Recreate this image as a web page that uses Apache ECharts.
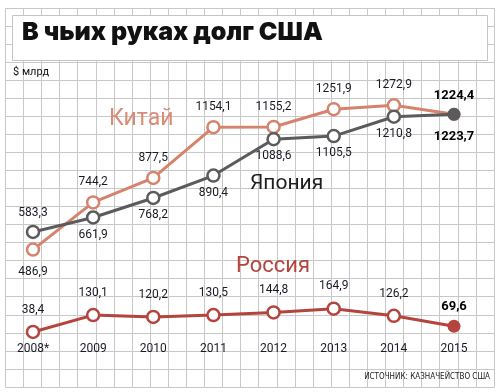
<!DOCTYPE html>
<html>
<head>
<meta charset="utf-8">
<script src="https://cdn.jsdelivr.net/npm/echarts@6/dist/echarts.min.js"></script>
<style>
html,body{margin:0;padding:0;background:#fff;}
#c{width:500px;height:392px;}
</style>
</head>
<body>
<div id="c"></div>
<script>
const years = ['2008*','2009','2010','2011','2012','2013','2014','2015'];
const china = [486.9,744.2,877.5,1154.1,1155.2,1251.9,1272.9,1224.4];
const japan = [583.3,661.9,768.2,890.4,1088.6,1105.5,1210.8,1223.7];
const russia = [38.4,130.1,120.2,130.5,144.8,164.9,126.2,69.6];
const chinaLabelPos = ['bottom','top','top','top','top','top','top','top'];
const japanLabelPos = ['top','bottom','bottom','bottom','bottom','bottom','bottom','bottom'];

const C_CHINA = '#d6836d', C_JAPAN = '#5b5b5b', C_RUSSIA = '#b4443e';
const FONT = 'Roboto';
const fmt = v => v.toFixed(1).replace('.', ',');

function build(vals, color, posArr, distTop, distBottom) {
  return vals.map((v, i) => {
    const last = i === vals.length - 1;
    const pos = posArr[i];
    return {
      value: v,
      symbolSize: last ? 13 : 12,
      itemStyle: last ? { color: color, borderColor: color, borderWidth: 0 } : { color: '#fff', borderColor: color, borderWidth: 2.5 },
      label: {
        show: true,
        position: pos,
        distance: pos === 'top' ? distTop : distBottom,
        formatter: fmt(v),
        fontFamily: FONT,
        fontSize: last ? 13 : 12,
        fontWeight: last ? 'bold' : 'normal',
        color: last ? '#000' : '#1a1a24'
      }
    };
  });
}

const chinaData = build(china, C_CHINA, chinaLabelPos, 7, 9);
chinaData[0].label.distance = 9;
chinaData[7].label.distance = 5;
const japanData = build(japan, C_JAPAN, japanLabelPos, 6, 4);
japanData[7].label.distance = 9;
const russiaData = build(russia, C_RUSSIA, russia.map(() => 'top'), 9, 9);
russiaData[7].label.distance = 6;

// graph paper background
const gfx = [];
const gx0 = 5, gy0 = 8, gdx = 18.1, gdy = 18.03, ncol = 27, nrow = 21;
for (let i = 0; i <= ncol; i++) {
  const x = Math.round(gx0 + i * gdx) + 0.5;
  gfx.push({ type: 'line', z: 0, silent: true, shape: { x1: x, y1: gy0 + 0.5, x2: x, y2: gy0 + nrow * gdy + 0.5 }, style: { stroke: '#c8c8c8', lineWidth: 1 } });
}
for (let j = 0; j <= nrow; j++) {
  const y = Math.round(gy0 + j * gdy) + 0.5;
  gfx.push({ type: 'line', z: 0, silent: true, shape: { x1: gx0 + 0.5, y1: y, x2: Math.round(gx0 + ncol * gdx) + 0.5, y2: y }, style: { stroke: '#c8c8c8', lineWidth: 1 } });
}
gfx.push({ type: 'rect', z: 1, silent: true, shape: { x: 12.5, y: 15.5, width: 475, height: 45 }, style: { fill: '#fff', stroke: '#c4c4c4', lineWidth: 1 } });
gfx.push({ type: 'text', z: 2, left: 22, top: 20, style: { text: 'В чьих руках долг США', font: '900 25px Inter, "DejaVu Sans", sans-serif', fill: '#111' } });
gfx.push({ type: 'text', z: 2, left: 13, top: 67, style: { text: '$ млрд', font: '11px Roboto, sans-serif', fill: '#111' } });
gfx.push({ type: 'text', z: 2, left: 109, top: 108, style: { text: 'Китай', font: '23px Roboto, sans-serif', fill: '#d98b76' } });
gfx.push({ type: 'text', z: 2, left: 250, top: 173, style: { text: 'Япония', font: '21px Roboto, sans-serif', fill: '#1d1d1d' } });
gfx.push({ type: 'text', z: 2, left: 236, top: 255, style: { text: 'Россия', font: '22px Roboto, sans-serif', fill: '#b5443e' } });
gfx.push({ type: 'text', z: 2, right: 10, top: 373, style: { text: 'ИСТОЧНИК: КАЗНАЧЕЙСТВО США', font: '8px "DejaVu Sans Condensed", "DejaVu Sans", sans-serif', fill: '#1a1a1a' } });

const chart = echarts.init(document.getElementById('c'), null, { renderer: 'canvas' });
chart.setOption({
  animation: false,
  backgroundColor: '#fff',
  graphic: gfx,
  grid: { left: 33, right: 46, top: 82, bottom: 53 },
  xAxis: {
    type: 'category', data: years, boundaryGap: false,
    axisLine: { show: false }, axisTick: { show: false }, splitLine: { show: false },
    axisLabel: { margin: 4, fontFamily: FONT, fontSize: 12, color: '#1a1a24' }
  },
  yAxis: { type: 'value', min: 0, max: 1400, show: false, splitLine: { show: false } },
  series: [
    { name: 'Китай', type: 'line', z: 3, data: chinaData, symbol: 'circle', lineStyle: { color: C_CHINA, width: 3 }, itemStyle: { color: C_CHINA } },
    { name: 'Япония', type: 'line', z: 4, data: japanData, symbol: 'circle', lineStyle: { color: C_JAPAN, width: 3 }, itemStyle: { color: C_JAPAN } },
    { name: 'Россия', type: 'line', z: 5, data: russiaData, symbol: 'circle', lineStyle: { color: C_RUSSIA, width: 3 }, itemStyle: { color: C_RUSSIA } }
  ]
});
</script>
</body>
</html>
